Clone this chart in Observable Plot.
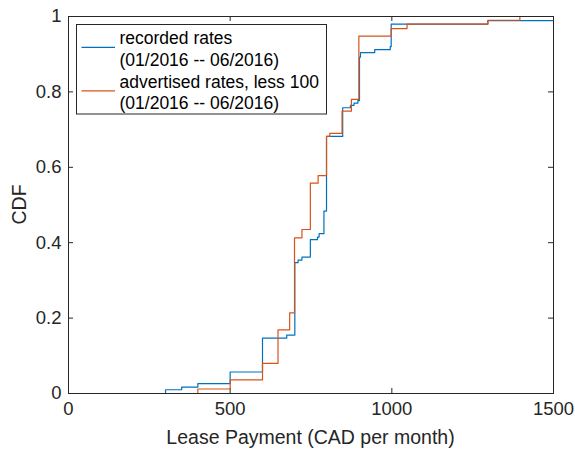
<!DOCTYPE html>
<html>
<head>
<meta charset="utf-8">
<script src="https://cdn.jsdelivr.net/npm/d3@7"></script>
<script src="https://cdn.jsdelivr.net/npm/@observablehq/plot@0.6"></script>
<style>
  html, body { margin: 0; padding: 0; background: #fff; }
  svg { display: block; }
</style>
</head>
<body>
<div id="chart"></div>
<script>
// Recorded rates (01/2016 -- 06/2016): step breakpoints (x = CAD/month, y = CDF)
const recordedX = [300, 300, 350, 400, 500, 600, 675, 700, 710, 722, 748, 770, 775, 790, 798, 848, 872, 883, 895, 900, 903, 947, 995, 998, 1297, 1500];
const recordedY = [0, 0.010, 0.017, 0.026, 0.057, 0.147, 0.155, 0.347, 0.354, 0.362, 0.408, 0.415, 0.424, 0.484, 0.682, 0.758, 0.764, 0.770, 0.777, 0.892, 0.904, 0.912, 0.920, 0.980, 0.989, 0.989];

// Advertised rates, less 100 (01/2016 -- 06/2016)
const advertisedX = [400, 400, 500, 600, 648, 684, 699, 722, 748, 772, 798, 808, 846, 875, 898, 998, 1047, 1297, 1396, 1500];
const advertisedY = [0, 0.012, 0.036, 0.080, 0.169, 0.214, 0.413, 0.435, 0.558, 0.578, 0.682, 0.690, 0.749, 0.780, 0.948, 0.968, 0.980, 0.990, 1.0, 1.0];

const seriesNames = ["recorded rates", "advertised rates, less 100"];
const seriesSub = "(01/2016 -- 06/2016)";
const seriesColors = ["#0072BD", "#D95319"];

const xTicks = [0, 500, 1000, 1500];
const yTicks = [0, 0.2, 0.4, 0.6, 0.8, 1];
const xLabel = "Lease Payment (CAD per month)";
const yLabel = "CDF";

const recorded = recordedX.map((x, i) => ({x, y: recordedY[i]}));
const advertised = advertisedX.map((x, i) => ({x, y: advertisedY[i]}));

const W = 575, H = 449;
const mL = 68, mR = 22, mT = 16, mB = 56;
const axisColor = "#262626";
const tickLenX = 5 / (H - mT - mB);          // in y units
const tickLenY = 5 * 1500 / (W - mL - mR);   // in x units

const plot = Plot.plot({
  width: W,
  height: H,
  marginLeft: mL,
  marginRight: mR,
  marginTop: mT,
  marginBottom: mB,
  style: {fontFamily: "'Liberation Sans', Arial, Helvetica, sans-serif", fontSize: "18.5px", color: axisColor, background: "#fff"},
  x: {domain: [0, 1500], label: null},
  y: {domain: [0, 1], label: null},
  marks: [
    Plot.axisX({ticks: xTicks, tickSize: 0, tickPadding: 8, tickFormat: d => String(d), label: null, fill: axisColor}),
    Plot.axisY({ticks: yTicks, tickSize: 0, tickPadding: 7, tickFormat: d => String(d), label: null, fill: axisColor}),
    // inward tick marks (MATLAB style)
    Plot.ruleX(xTicks, {x: d => d, y1: 0, y2: tickLenX, stroke: axisColor, strokeWidth: 1}),
    Plot.ruleX(xTicks, {x: d => d, y1: 1, y2: 1 - tickLenX, stroke: axisColor, strokeWidth: 1}),
    Plot.ruleY(yTicks, {y: d => d, x1: 0, x2: tickLenY, stroke: axisColor, strokeWidth: 1}),
    Plot.ruleY(yTicks, {y: d => d, x1: 1500, x2: 1500 - tickLenY, stroke: axisColor, strokeWidth: 1}),
    Plot.line(recorded, {x: "x", y: "y", curve: "step-after", stroke: seriesColors[0], strokeWidth: 1.2}),
    Plot.line(advertised, {x: "x", y: "y", curve: "step-after", stroke: seriesColors[1], strokeWidth: 1.2}),
    Plot.frame({stroke: axisColor, strokeWidth: 1})
  ]
});

document.getElementById("chart").appendChild(plot);

// Axis labels
const svg = d3.select(plot);
const font = "'Liberation Sans', Arial, Helvetica, sans-serif";
svg.append("text")
  .attr("x", mL + (W - mL - mR) / 2)
  .attr("y", 437)
  .attr("text-anchor", "middle")
  .attr("dominant-baseline", "central")
  .attr("font-family", font)
  .attr("font-size", "19.5px")
  .attr("fill", axisColor)
  .text(xLabel);
svg.append("text")
  .attr("transform", `translate(19, ${mT + (H - mT - mB) / 2}) rotate(-90)`)
  .attr("text-anchor", "middle")
  .attr("dominant-baseline", "central")
  .attr("font-family", font)
  .attr("font-size", "19.5px")
  .attr("fill", axisColor)
  .text(yLabel);

// Legend
const lg = svg.append("g")
  .attr("font-family", font)
  .attr("font-size", "17.5px")
  .attr("fill", "#000")
  .attr("text-anchor", "start");
lg.append("rect")
  .attr("x", 76.5).attr("y", 24.5).attr("width", 250).attr("height", 89.5)
  .attr("fill", "#fff").attr("stroke", axisColor).attr("stroke-width", 1);
const rowsY = [37.7, 60, 81.7, 103];
seriesNames.forEach((name, i) => {
  const ly = (rowsY[2 * i] + rowsY[2 * i + 1]) / 2 - 1.5;
  lg.append("line")
    .attr("x1", 81.5).attr("x2", 115).attr("y1", ly).attr("y2", ly)
    .attr("stroke", seriesColors[i]).attr("stroke-width", 1.2);
  lg.append("text").attr("x", 119.5).attr("y", rowsY[2 * i]).attr("text-anchor", "start").attr("dominant-baseline", "central").text(name);
  lg.append("text").attr("x", 119.5).attr("y", rowsY[2 * i + 1]).attr("text-anchor", "start").attr("dominant-baseline", "central").text(seriesSub);
});
</script>
</body>
</html>
